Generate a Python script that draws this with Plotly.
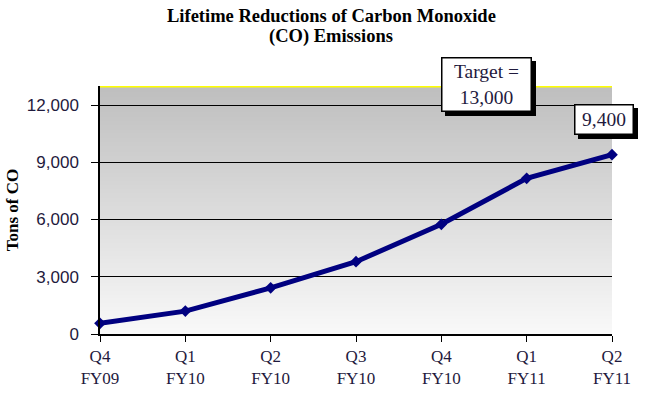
import numpy as np
import plotly.graph_objects as go

# chart data
quarters = ["Q4<br>FY09", "Q1<br>FY10", "Q2<br>FY10", "Q3<br>FY10",
            "Q4<br>FY10", "Q1<br>FY11", "Q2<br>FY11"]
tons_co = [560, 1200, 2420, 3790, 5750, 8160, 9400]
target = 13000
y_ticks = [0, 3000, 6000, 9000, 12000]
title_lines = ["Lifetime Reductions of Carbon Monoxide", "(CO) Emissions"]

serif = "Liberation Serif, Times New Roman, serif"
sans = "Liberation Sans, Arial, sans-serif"
ink = "#1f1a3d"

fig = go.Figure()

# line of cumulative reductions
fig.add_trace(go.Scatter(
    x=quarters, y=tons_co,
    mode="lines+markers",
    line=dict(color="#000080", width=5),
    marker=dict(symbol="diamond", size=9, color="#000080"),
    cliponaxis=False,
    showlegend=False,
    hoverinfo="x+y",
))

# gradient background, grey at the top to near-white at the bottom
# (bands overlap a little so no seams show between them)
shapes = []
n_bands = 120
edges = np.linspace(0, target, n_bands + 1)
for i in range(n_bands):
    t = (i + 0.5) / n_bands
    g = int(round(249 - t * (249 - 190)))
    top = edges[min(i + 2, n_bands)]
    shapes.append(dict(
        type="rect", layer="below", xref="paper", yref="y",
        x0=0, x1=1, y0=edges[i], y1=top,
        fillcolor=f"rgb({g},{g},{g})", line=dict(width=0),
    ))

# target line along the top
shapes.append(dict(
    type="line", layer="above", xref="paper", yref="y",
    x0=0, x1=1, y0=target, y1=target,
    line=dict(color="#ffff00", width=3),
))


def boxed(text, x, y, w, h, xshift=0, yshift=0):
    # black empty box behind, offset, acts as the drop shadow
    common = dict(x=x, y=y, xref="x", yref="y", showarrow=False,
                  width=w, height=h, align="center", valign="middle",
                  borderwidth=1.5, borderpad=0)
    shadow = dict(common, text=" ", bgcolor="black", bordercolor="black",
                  font=dict(family=serif, size=19.5, color="black"),
                  xshift=xshift + 4, yshift=yshift - 4)
    front = dict(common, text=text, bgcolor="white", bordercolor="black",
                 font=dict(family=serif, size=19.5, color=ink),
                 xshift=xshift, yshift=yshift)
    return [shadow, front]


annotations = []
annotations += boxed(f"Target =<br>{target:,}", 4.5, target, 88, 52,
                     xshift=2, yshift=2)
annotations += boxed(f"{tons_co[-1]:,}", len(quarters) - 1, tons_co[-1], 57, 28,
                     xshift=-8, yshift=35)

# title as two lines, placed one by one for tight line spacing
for line, ypos in zip(title_lines, [1.283, 1.198]):
    annotations.append(dict(
        text=f"<b>{line}</b>", xref="paper", yref="paper",
        x=0.452, y=ypos, xanchor="center", yanchor="middle",
        showarrow=False,
        font=dict(family=serif, size=18.5, color="black"),
    ))

fig.update_layout(
    width=645, height=400,
    margin=dict(l=100, r=33, t=86, b=66),
    paper_bgcolor="white",
    plot_bgcolor="white",
    xaxis=dict(
        type="category",
        range=[0, len(quarters) - 1],
        showgrid=False,
        showline=True, linecolor="black", linewidth=1.5,
        ticks="outside", ticklen=6, tickcolor="black",
        ticklabelstandoff=0,
        tickfont=dict(family=serif, size=17, color=ink),
        zeroline=False,
        automargin=False,
    ),
    yaxis=dict(
        range=[0, target],
        tickvals=y_ticks,
        tickformat=",",
        showgrid=True, gridcolor="black", gridwidth=1,
        showline=True, linecolor="black", linewidth=1.5,
        ticks="outside", ticklen=7, tickcolor="black",
        ticklabelstandoff=9,
        tickfont=dict(family=sans, size=17, color=ink),
        zeroline=False,
        automargin=False,
        title=dict(text="<b>Tons of CO</b>", standoff=4,
                   font=dict(family=serif, size=17, color="black")),
    ),
    shapes=shapes,
    annotations=annotations,
)

fig.write_html("out.html", config={"displayModeBar": False},
               post_script="document.body.style.margin='0';")
